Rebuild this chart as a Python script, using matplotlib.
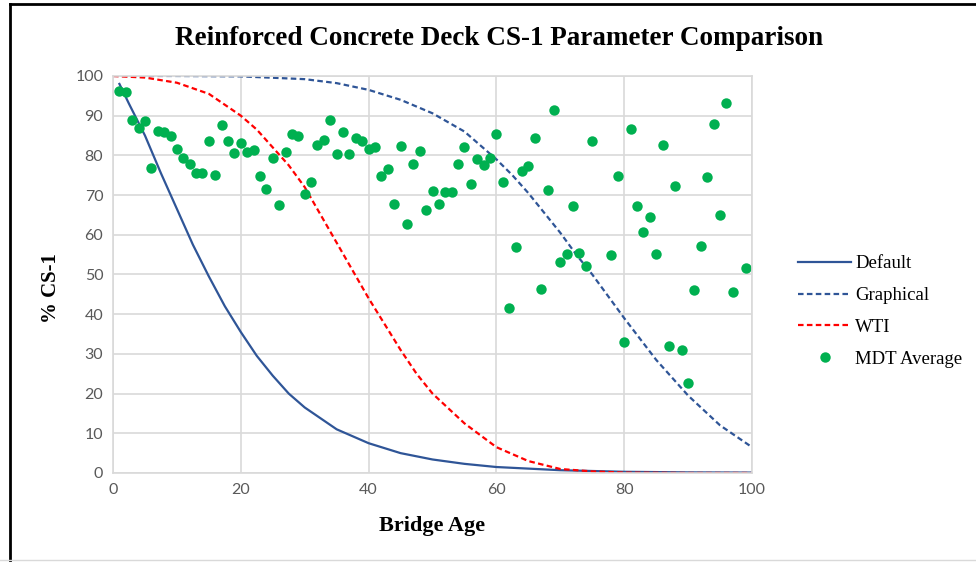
import matplotlib.pyplot as plt
from matplotlib.lines import Line2D

# MDT average (ages 76, 77, 98 have no point)
mdt_age = [1, 2, 3, 4, 5, 6, 7, 8, 9, 10, 11, 12, 13, 14, 15, 16, 17, 18, 19, 20,
           21, 22, 23, 24, 25, 26, 27, 28, 29, 30, 31, 32, 33, 34, 35, 36, 37, 38, 39, 40,
           41, 42, 43, 44, 45, 46, 47, 48, 49, 50, 51, 52, 53, 54, 55, 56, 57, 58, 59, 60,
           61, 62, 63, 64, 65, 66, 67, 68, 69, 70, 71, 72, 73, 74, 75, 78, 79, 80,
           81, 82, 83, 84, 85, 86, 87, 88, 89, 90, 91, 92, 93, 94, 95, 96, 97, 99]
mdt_pct = [96.3, 96.0, 88.8, 86.9, 88.7, 76.8, 86.1, 86.0, 84.8, 81.5, 79.4, 77.8, 75.6, 75.6, 83.5, 75.0,
           87.6, 83.6, 80.7, 83.1, 80.9, 81.3, 74.7, 71.5, 79.4, 67.4, 80.8, 85.3, 85.0, 70.3,
           73.3, 82.7, 84.0, 88.9, 80.4, 85.8, 80.4, 84.3, 83.6, 81.5, 82.2, 74.9, 76.6, 67.7,
           82.4, 62.8, 77.9, 81.0, 66.3, 71.0, 67.7, 70.7, 70.7, 77.8, 82.2, 72.9, 79.0, 77.5,
           79.3, 85.3, 73.4, 41.6, 56.8, 76.1, 77.3, 84.5, 46.3, 71.4, 91.5, 53.1, 55.2, 67.3,
           55.3, 52.1, 83.6, 55.0, 74.7, 33.0, 86.6, 67.3, 60.7, 64.4, 55.2, 82.7, 32.0, 72.3,
           30.9, 22.7, 46.0, 57.1, 74.5, 88.0, 65.0, 93.2, 45.5, 51.6]

# Default curve
default_age = [1, 2.5, 5, 7.5, 10, 12.5, 15, 17.5, 20, 22.5, 25, 27.5, 30, 35, 40, 45, 50,
               55, 60, 70, 80, 90, 100]
default_pct = [98, 93, 85, 75.5, 66.5, 57.5, 49.5, 42, 35.5, 29.5, 24.5, 20, 16.5, 11, 7.5, 5,
               3.4, 2.3, 1.5, 0.7, 0.3, 0.15, 0.1]

# Graphical curve
graph_age = [0, 10, 20, 30, 35, 40, 45, 50, 55, 60, 62.5, 65, 67.5, 70, 72.5, 75, 77.5, 80,
             85, 90, 95, 100]
graph_pct = [100, 100, 99.9, 99.2, 98.2, 96.5, 94, 90.6, 86, 79, 75, 70.5, 65.5, 60.5, 55,
             50, 44.5, 39, 28.5, 19.5, 12, 6.5]

# WTI curve
wti_age = [0, 5, 10, 15, 20, 22.5, 25, 27.5, 30, 32.5, 35, 37.5, 40, 42.5, 45, 47.5, 50,
           55, 60, 65, 70, 75, 80, 90, 100]
wti_pct = [100, 99.6, 98.3, 95.5, 90, 86.5, 82, 77.5, 72, 65, 58, 51, 44, 37.5, 31, 25,
           20, 12.5, 6.5, 3, 1, 0.4, 0.1, 0, 0]

serif = "Liberation Serif"
blue = "#2F5597"

fig = plt.figure(figsize=(9.76, 5.62), dpi=100)
ax = fig.add_axes([0.1158, 0.1584, 0.6547, 0.7064])

ax.plot(default_age, default_pct, color=blue, lw=1.6, label="Default")
ax.plot(graph_age, graph_pct, color=blue, lw=1.6, ls=(0, (2.5, 1.5)), label="Graphical")
ax.plot(wti_age, wti_pct, color="#FF0000", lw=1.6, ls=(0, (2.5, 1.5)), label="WTI")
ax.plot(mdt_age, mdt_pct, "o", color="#00B050", ms=7.5, mec="none", label="MDT Average")

ax.set_xlim(0, 100)
ax.set_ylim(0, 100)
ax.set_xticks(range(0, 101, 20))
ax.set_yticks(range(0, 101, 10))
ax.grid(True, color="#D9D9D9", lw=1.2)
ax.set_axisbelow(True)
for s in ax.spines.values():
    s.set_color("#D9D9D9")
    s.set_linewidth(1.2)
ax.tick_params(length=0, labelsize=11.5, labelcolor="#595959", pad=7)
for lab in ax.get_xticklabels() + ax.get_yticklabels():
    lab.set_family("Lato")

ax.set_xlabel("Bridge Age", family=serif, fontweight="bold", fontsize=16, labelpad=14)
ax.set_ylabel("% CS-1", family=serif, fontweight="bold", fontsize=15)
ax.yaxis.set_label_coords(-0.082, 0.465)
fig.text(0.511, 0.932, "Reinforced Concrete Deck CS-1 Parameter Comparison",
         ha="center", va="center", family=serif, fontweight="bold", fontsize=19.5)

ax.legend(loc="center left", bbox_to_anchor=(1.046, 0.407), frameon=False,
          prop={"family": serif, "size": 13.5}, handlelength=2.8, handletextpad=0.25,
          labelspacing=0.78)

# outer frame of the screenshot
fig.add_artist(Line2D([0.010, 0.010], [0.0, 0.993], color="black", lw=2))
fig.add_artist(Line2D([0.010, 1.0], [0.993, 0.993], color="black", lw=2))
fig.add_artist(Line2D([0.0, 1.0], [0.004, 0.004], color="#D9D9D9", lw=1))

fig.savefig("out.png", dpi=100)
